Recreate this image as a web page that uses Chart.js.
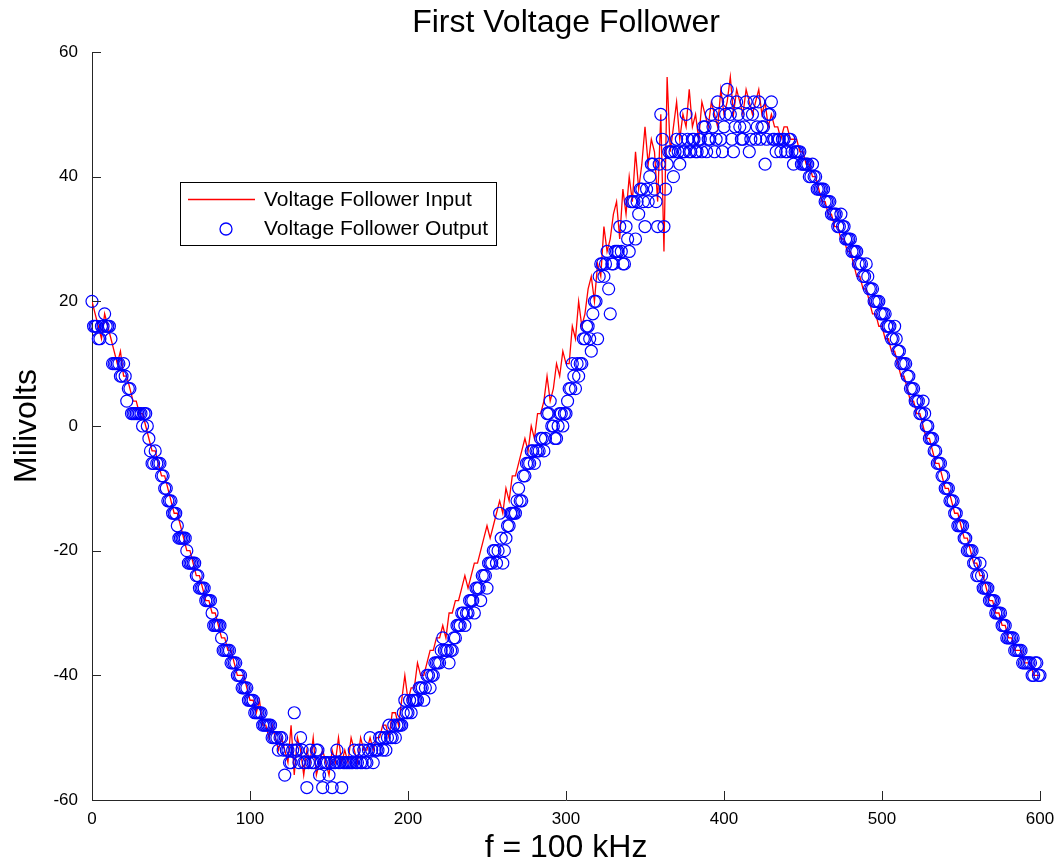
<!DOCTYPE html>
<html>
<head>
<meta charset="utf-8">
<title>First Voltage Follower</title>
<script src="https://cdn.jsdelivr.net/npm/chart.js@4.4.1/dist/chart.umd.min.js"></script>
<style>
  html, body { margin: 0; padding: 0; background: #fff; }
  #chart { display: block; }
</style>
</head>
<body>
<canvas id="chart" width="1064" height="867"></canvas>
<script>
// Sample spacing on the x axis for each trace
const inputStep = 2;
const outputStep = 1;

// Voltage follower input (mV), red trace, every second sample
const inputValues = [
  20, 18, 16, 14, 18, 16, 14, 12, 10, 12,
  8, 8, 6, 4, 4, 2, 2, 0, -2, -4,
  -4, -6, -8, -8, -10, -12, -14, -14, -16, -18,
  -20, -20, -22, -24, -24, -26, -28, -28, -30, -30,
  -32, -34, -34, -36, -36, -38, -40, -40, -40, -42,
  -44, -44, -46, -44, -48, -48, -50, -48, -50, -52,
  -50, -52, -54, -48, -56, -50, -52, -56, -52, -54,
  -50, -56, -54, -52, -54, -56, -52, -54, -50, -54,
  -52, -54, -50, -52, -54, -50, -52, -52, -50, -52,
  -50, -50, -48, -48, -50, -46, -46, -48, -44, -40,
  -44, -42, -42, -38, -40, -40, -38, -36, -36, -34,
  -34, -32, -34, -30, -30, -28, -28, -26, -24, -26,
  -24, -22, -22, -20, -18, -16, -18, -16, -14, -12,
  -14, -10, -12, -8, -8, -6, -4, -2, -4, 0,
  -2, 2, 2, 4, 8, 4, 6, 10, 8, 12,
  10, 10, 16, 14, 20, 16, 18, 22, 24, 20,
  26, 24, 32, 28, 30, 34, 36, 30, 38, 34,
  40, 36, 44, 38, 42, 48, 42, 46, 44, 36,
  50, 28, 56, 44, 48, 52, 46, 50, 48, 54,
  48, 50, 46, 52, 50, 48, 52, 50, 48, 54,
  50, 52, 56, 50, 54, 52, 50, 54, 52, 50,
  52, 54, 50, 52, 48, 50, 48, 48, 46, 48,
  48, 46, 46, 46, 44, 44, 42, 42, 40, 40,
  38, 36, 36, 34, 34, 32, 32, 30, 30, 28,
  28, 26, 24, 24, 22, 22, 20, 18, 18, 16,
  16, 14, 14, 12, 12, 10, 8, 8, 6, 4,
  4, 2, 2, 0, -2, -2, -4, -6, -6, -8,
  -10, -10, -12, -14, -14, -16, -18, -18, -20, -22,
  -22, -24, -24, -26, -28, -28, -30, -30, -32, -32,
  -34, -34, -36, -36, -36, -38, -38, -38, -40, -40,
  -40
];

// Voltage follower output (mV), blue circles, every sample
const outputValues = [
  20, 16, 16, 16, 14, 14, 16, 16, 18, 16, 16, 16, 14, 10, 10, 10, 10, 10, 8, 8,
  10, 8, 4, 6, 6, 2, 2, 2, 2, 2, 2, 2, 0, 2, 2, 0, -2, -4, -6, -6,
  -4, -6, -6, -6, -8, -8, -10, -10, -12, -12, -12, -14, -14, -14, -16, -18, -18, -18, -18, -18,
  -20, -22, -22, -22, -22, -22, -24, -24, -26, -26, -26, -26, -28, -28, -28, -28, -30, -32, -32, -32,
  -32, -32, -34, -36, -36, -36, -36, -36, -38, -38, -38, -38, -40, -40, -40, -42, -42, -42, -42, -44,
  -44, -44, -44, -46, -46, -46, -46, -46, -48, -48, -48, -48, -48, -48, -50, -50, -50, -50, -52, -50,
  -50, -52, -56, -52, -52, -54, -54, -52, -46, -52, -52, -54, -50, -52, -54, -54, -58, -54, -52, -54,
  -54, -54, -52, -52, -56, -54, -58, -54, -54, -54, -56, -54, -58, -54, -54, -52, -54, -54, -58, -54,
  -54, -54, -54, -54, -54, -54, -52, -54, -54, -52, -54, -54, -52, -54, -54, -52, -50, -52, -54, -52,
  -52, -52, -50, -50, -52, -50, -52, -50, -48, -50, -50, -48, -50, -48, -48, -48, -48, -46, -44, -46,
  -46, -44, -46, -44, -44, -44, -44, -42, -42, -42, -44, -42, -40, -40, -42, -40, -40, -38, -38, -38,
  -38, -36, -34, -36, -36, -36, -38, -36, -36, -34, -34, -32, -32, -32, -30, -30, -32, -30, -30, -28,
  -28, -28, -30, -26, -26, -26, -28, -24, -24, -24, -26, -22, -22, -22, -20, -20, -22, -20, -14, -18,
  -22, -20, -18, -16, -16, -14, -14, -14, -14, -12, -10, -12, -12, -8, -8, -6, -6, -6, -4, -4,
  -6, -4, -4, -4, -2, -2, -4, -2, 2, 2, 4, 0, 0, -2, -2, 0, 2, 2, 0, 2,
  2, 4, 6, 6, 10, 8, 6, 10, 8, 10, 10, 14, 14, 16, 16, 14, 12, 18, 20, 20,
  14, 24, 26, 26, 24, 26, 28, 22, 18, 26, 26, 28, 28, 28, 32, 28, 26, 26, 32, 30,
  28, 36, 36, 36, 30, 36, 34, 38, 38, 36, 32, 38, 36, 40, 42, 42, 38, 36, 32, 42,
  50, 46, 32, 38, 42, 44, 44, 44, 40, 44, 46, 44, 42, 46, 44, 44, 50, 46, 44, 44,
  46, 46, 44, 44, 46, 46, 44, 48, 48, 44, 46, 46, 50, 48, 44, 46, 52, 50, 46, 44,
  48, 50, 54, 52, 50, 46, 44, 48, 52, 50, 48, 46, 46, 48, 52, 50, 44, 46, 50, 52,
  46, 48, 52, 46, 48, 48, 42, 46, 50, 50, 52, 46, 46, 44, 46, 46, 44, 46, 46, 44,
  44, 46, 46, 44, 42, 44, 44, 44, 44, 42, 42, 42, 42, 42, 40, 40, 42, 40, 40, 38,
  38, 38, 38, 38, 36, 36, 36, 36, 34, 34, 34, 34, 32, 32, 34, 32, 32, 30, 30, 30,
  30, 28, 28, 28, 28, 26, 26, 26, 24, 24, 26, 24, 22, 22, 22, 20, 20, 20, 20, 18,
  18, 18, 18, 16, 16, 16, 14, 14, 16, 14, 12, 12, 10, 10, 10, 10, 8, 8, 6, 6,
  6, 4, 4, 4, 2, 2, 4, 2, 0, 0, -2, -2, -2, -4, -4, -6, -6, -6, -8, -8,
  -10, -10, -10, -12, -12, -12, -14, -14, -16, -16, -16, -16, -18, -18, -20, -20, -20, -20, -22, -22,
  -24, -24, -22, -24, -26, -26, -26, -26, -28, -28, -28, -28, -30, -30, -30, -30, -32, -32, -32, -34,
  -34, -34, -34, -34, -36, -36, -36, -36, -36, -38, -38, -38, -38, -38, -38, -40, -40, -38, -38, -40,
  -40
];

const seriesLabels = ["Voltage Follower Input", "Voltage Follower Output"];
const xTicks = [0, 100, 200, 300, 400, 500, 600];
const yTicks = [-60, -40, -20, 0, 20, 40, 60];

const FONT = '"Liberation Sans", Arial, Helvetica, sans-serif';
const AXIS_COLOR = "#262626";

const toPoints = (values, step) => values.map((v, i) => ({ x: i * step, y: v }));

// Title, inward tick marks and the boxed legend inside the plot
const decorations = {
  id: "decorations",
  afterDraw(chart) {
    const { ctx, chartArea, scales } = chart;
    ctx.save();

    // inward ticks
    ctx.strokeStyle = AXIS_COLOR;
    ctx.lineWidth = 1;
    ctx.beginPath();
    xTicks.forEach((t) => {
      const px = Math.round(scales.x.getPixelForValue(t)) + 0.5;
      ctx.moveTo(px, chartArea.bottom);
      ctx.lineTo(px, chartArea.bottom - 9);
    });
    yTicks.forEach((t) => {
      const py = Math.round(scales.y.getPixelForValue(t)) + 0.5;
      ctx.moveTo(chartArea.left, py);
      ctx.lineTo(chartArea.left + 9, py);
    });
    ctx.stroke();

    // title
    ctx.fillStyle = "#000";
    ctx.font = "32px " + FONT;
    ctx.textAlign = "center";
    ctx.textBaseline = "middle";
    ctx.fillText("First Voltage Follower", (chartArea.left + chartArea.right) / 2, 23);

    // legend
    ctx.fillStyle = "#fff";
    ctx.fillRect(180.5, 182.5, 316, 63);
    ctx.strokeStyle = "#000";
    ctx.strokeRect(180.5, 182.5, 316, 63);

    ctx.strokeStyle = "#ff0000";
    ctx.lineWidth = 1.5;
    ctx.beginPath();
    ctx.moveTo(188, 199.5);
    ctx.lineTo(255, 199.5);
    ctx.stroke();

    ctx.strokeStyle = "#0000ff";
    ctx.lineWidth = 1.3;
    ctx.beginPath();
    ctx.arc(226, 229, 6, 0, Math.PI * 2);
    ctx.stroke();

    ctx.fillStyle = "#000";
    ctx.font = "21px " + FONT;
    ctx.textAlign = "left";
    ctx.fillText(seriesLabels[0], 264, 200);
    ctx.fillText(seriesLabels[1], 264, 229);

    ctx.restore();
  }
};

new Chart(document.getElementById("chart"), {
  type: "line",
  data: {
    datasets: [
      {
        label: seriesLabels[0],
        data: toPoints(inputValues, inputStep),
        borderColor: "#ff0000",
        borderWidth: 1.3,
        pointRadius: 0,
        tension: 0,
        fill: false,
        order: 1
      },
      {
        label: seriesLabels[1],
        type: "scatter",
        data: toPoints(outputValues, outputStep),
        showLine: false,
        pointStyle: "circle",
        pointRadius: 6,
        pointBorderWidth: 1.2,
        borderColor: "#0000ff",
        backgroundColor: "rgba(0,0,0,0)",
        clip: false,
        order: 0
      }
    ]
  },
  options: {
    responsive: false,
    animation: false,
    layout: { padding: { top: 52, right: 24, left: 0, bottom: 0 } },
    plugins: {
      legend: { display: false },
      tooltip: { enabled: false }
    },
    scales: {
      x: {
        type: "linear",
        min: 0,
        max: 600,
        afterBuildTicks: (s) => { s.ticks = xTicks.map((v) => ({ value: v })); },
        afterFit: (s) => { s.height = 67; },
        ticks: { color: "#000", font: { family: FONT, size: 17 }, padding: 9, maxRotation: 0 },
        grid: { display: false, drawTicks: false },
        border: { display: true, color: AXIS_COLOR, width: 1 },
        title: { display: true, text: "f = 100 kHz", color: "#000", font: { family: FONT, size: 32 }, padding: { top: 0, bottom: 0 } }
      },
      y: {
        min: -60,
        max: 60,
        afterBuildTicks: (s) => { s.ticks = yTicks.map((v) => ({ value: v })); },
        afterFit: (s) => { s.width = 92; },
        ticks: { color: "#000", font: { family: FONT, size: 17 }, padding: 14 },
        grid: { display: false, drawTicks: false },
        border: { display: true, color: AXIS_COLOR, width: 1 },
        title: { display: true, text: "Milivolts", color: "#000", font: { family: FONT, size: 32 }, padding: { top: 8, bottom: 0 } }
      }
    }
  },
  plugins: [decorations]
});
</script>
</body>
</html>
